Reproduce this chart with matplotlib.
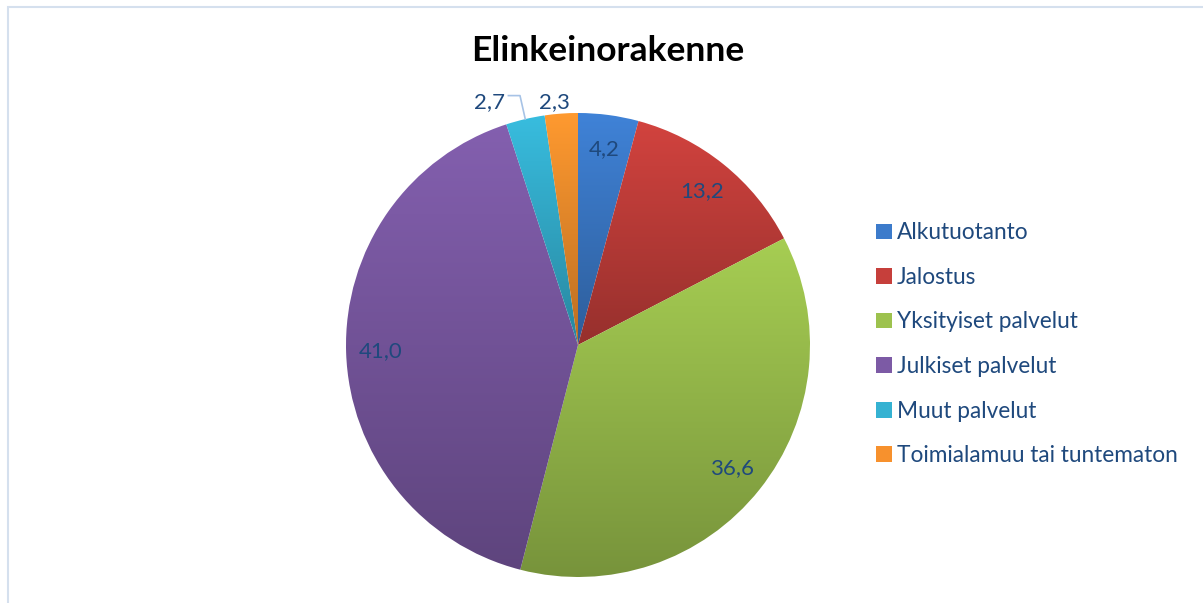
import numpy as np
import matplotlib
matplotlib.use("Agg")
import matplotlib.pyplot as plt
from matplotlib.colors import to_rgb
from matplotlib.patches import Rectangle

plt.rcParams['font.family'] = ['Lato', 'DejaVu Sans']

categories = ['Alkutuotanto', 'Jalostus', 'Yksityiset palvelut',
              'Julkiset palvelut', 'Muut palvelut', 'Toimialamuu tai tuntematon']
values = [4.2, 13.2, 36.6, 41.0, 2.7, 2.3]
colors = ['#3C7BCB', '#C63F3B', '#9DC24E', '#7C5AA5', '#35B2D2', '#F7912D']
title = 'Elinkeinorakenne'
text_col = '#1F497D'

W, H = 1203, 603
fig = plt.figure(figsize=(W / 100, H / 100), dpi=100)

# light frame of the chart area (only left/top visible)
fig.patches.append(Rectangle((8 / W, -0.1), 1.2, (H - 7) / H + 0.1,
                             transform=fig.transFigure, fill=False,
                             edgecolor='#D5E0EE', linewidth=1.5))

cx, cy, r = 578, 345, 232
ax = fig.add_axes([(cx - r) / W, (H - cy - r) / H, 2 * r / W, 2 * r / H])
ax.set_xlim(-1, 1)
ax.set_ylim(-1, 1)
ax.set_aspect('equal')
ax.axis('off')

wedges, _ = ax.pie(values, colors=colors, startangle=90, counterclock=False,
                   radius=1, wedgeprops=dict(linewidth=0))

# vertical gradient inside every wedge: lighter on top, darker at bottom
for w, c in zip(wedges, colors):
    rgb = np.array(to_rgb(c))
    top = np.clip(rgb * 1.06, 0, 1)
    bot = rgb * 0.76
    t = np.linspace(0, 1, 256)[:, None]
    grad = (top[None, :] * (1 - t) + bot[None, :] * t)[:, None, :]
    ext = w.get_path().get_extents(w.get_patch_transform())
    im = ax.imshow(grad, extent=[ext.x0, ext.x1, ext.y0, ext.y1],
                   origin='upper', aspect='auto', zorder=w.get_zorder())
    im.set_clip_path(w)
    w.set_facecolor('none')

ax.set_xlim(-1, 1)
ax.set_ylim(-1, 1)

# data labels
cum = np.cumsum([0] + values[:-1])
for i, v in enumerate(values):
    ang = np.deg2rad(90 - (cum[i] + v / 2) * 3.6)
    lab = f'{v:.1f}'.replace('.', ',')
    if v > 3:
        d = 0.85
        ax.text(d * np.cos(ang), d * np.sin(ang), lab, ha='center', va='center',
                fontsize=16, color=text_col)
    elif i == 4:
        ax.text(-0.38, 1.045, lab, ha='center', va='center', fontsize=16,
                color=text_col, clip_on=False)
        ex, ey = np.cos(ang), np.sin(ang)
        ax.plot([-0.30, -0.25, ex], [1.075, 1.075, ey], color='#A7C3E6',
                lw=1.2, clip_on=False)
    else:
        ax.text(-0.10, 1.045, lab, ha='center', va='center', fontsize=16,
                color=text_col, clip_on=False)

fig.text(608 / W, 1 - 51 / H, title, ha='center', va='center',
         fontsize=25.5, fontweight='bold', color='black')

fig.legend(wedges, categories, loc='upper left',
           bbox_to_anchor=(856 / W, 1 - 202 / H), frameon=False,
           fontsize=16.3, labelcolor=text_col, handlelength=0.7,
           handleheight=0.7, handletextpad=0.2, labelspacing=1.04)
for h, c in zip(fig.legends[0].legend_handles, colors):
    h.set_facecolor(c)

fig.savefig('out.png', dpi=100)
